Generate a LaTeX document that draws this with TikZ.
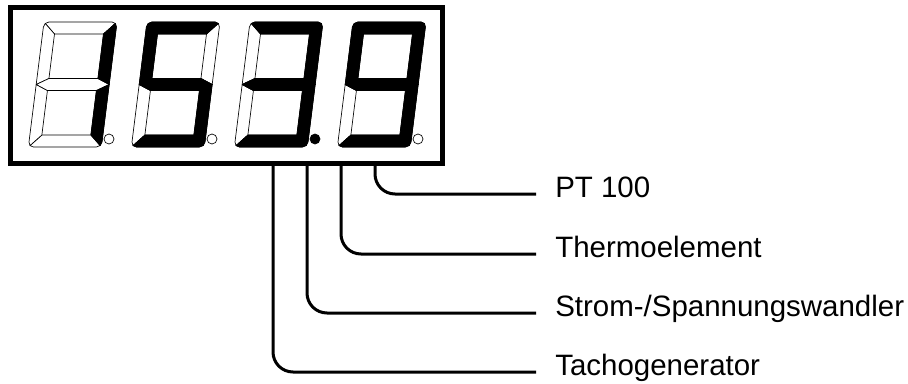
\documentclass[tikz,border=0pt]{standalone}
\usepackage{fontspec}
\setmainfont{Liberation Sans}
\usetikzlibrary{positioning,calc}

% outlines of the seven segments of one digit (local units = px, y down)
\newcommand{\sega}{(1.46,1.46) .. controls (2.40,0.53) and (3.67,0) .. (5,0) -- (68,0) .. controls (69.33,0) and (70.60,0.53) .. (71.54,1.46) -- (61,12) -- (12,12) -- cycle}
\newcommand{\segb}{(71.54,1.46) .. controls (72.47,2.40) and (73,3.67) .. (73,5) -- (73,62.5) -- (61,56.5) -- (61,12) -- cycle}
\newcommand{\segc}{(73,62.5) -- (73,120) .. controls (73,121.33) and (72.47,122.60) .. (71.54,123.54) -- (61,113) -- (61,68.5) -- cycle}
\newcommand{\segd}{(61,113) -- (71.54,123.54) .. controls (70.60,124.47) and (69.33,125) .. (68,125) -- (5,125) .. controls (3.67,125) and (2.40,124.47) .. (1.46,123.54) -- (12,113) -- cycle}
\newcommand{\sege}{(0,62.5) -- (12,68.5) -- (12,113) -- (1.46,123.54) .. controls (0.53,122.60) and (0,121.33) .. (0,120) -- cycle}
\newcommand{\segf}{(0,62.5) -- (0,5) .. controls (0,3.67) and (0.53,2.40) .. (1.46,1.46) -- (12,12) -- (12,56.5) -- cycle}
\newcommand{\segg}{(0,62.5) -- (12,56.5) -- (61,56.5) -- (73,62.5) -- (61,68.5) -- (12,68.5) -- cycle}
\newcommand{\drawseg}[2]{\edef\segcmd{\noexpand\draw[#1] \csname seg#2\endcsname;}\segcmd}

\begin{document}
\begin{tikzpicture}[
  x=0.75pt,y=-0.75pt,
  font=\fontsize{22.1}{26}\selectfont,
  display/.style={draw,line width=3.75pt,inner sep=0pt,minimum width=324pt,minimum height=117pt},
  segoff/.style={draw,fill=white,line width=0.5pt,line join=round},
  segon/.style={draw,fill=black,line width=0.5pt,line join=round},
  dp/.style={circle,draw,line width=0.5pt,fill=white,inner sep=0pt,minimum size=7.5pt},
  dpon/.style={dp,fill=black},
  lbl/.style={anchor=west,inner xsep=14.25pt,inner ysep=0pt,text height=0.6em,text depth=0.05em},
  lead/.style={line width=2.25pt,rounded corners=15pt},
]
\useasboundingbox (0,0) rectangle (908,383);
\node[display] (disp) at (226.5,85.5) {};
% digits 1 5 3 9, lit segments drawn over the dark ones
\foreach \x/\on in {44/{b,c},147/{a,c,d,f,g},250/{a,b,c,d,g},353/{a,b,c,d,f,g}}{
  \begin{scope}[shift={(\x,22)},xslant=0.125]
    \foreach \s in {a,...,g}{\drawseg{segoff}{\s}}
    \foreach \s in \on{\drawseg{segon}{\s}}
  \end{scope}
}
% decimal points
\node[dp] (dp1) at (109,139) {};
\node[dp] (dp2) at (212,139) {};
\node[dpon] (dp3) at (315,139) {};
\node[dp] (dp4) at (418,139) {};
% inputs
\node[lbl] (pt) at (536,194) {PT 100};
\node[lbl] (thermo) at (536,254) {Thermoelement};
\node[lbl] (strom) at (536,313) {Strom-/Spannungswandler};
\node[lbl] (tacho) at (536,372) {Tachogenerator};
\coordinate (pin4) at (375,163.5);
\coordinate (pin3) at (341,163.5);
\coordinate (pin2) at (307,163.5);
\coordinate (pin1) at (273,163.5);
\draw[lead] (pin4) |- (pt.west);
\draw[lead] (pin3) |- (thermo.west);
\draw[lead] (pin2) |- (strom.west);
\draw[lead] (pin1) |- (tacho.west);
\end{tikzpicture}
\end{document}
